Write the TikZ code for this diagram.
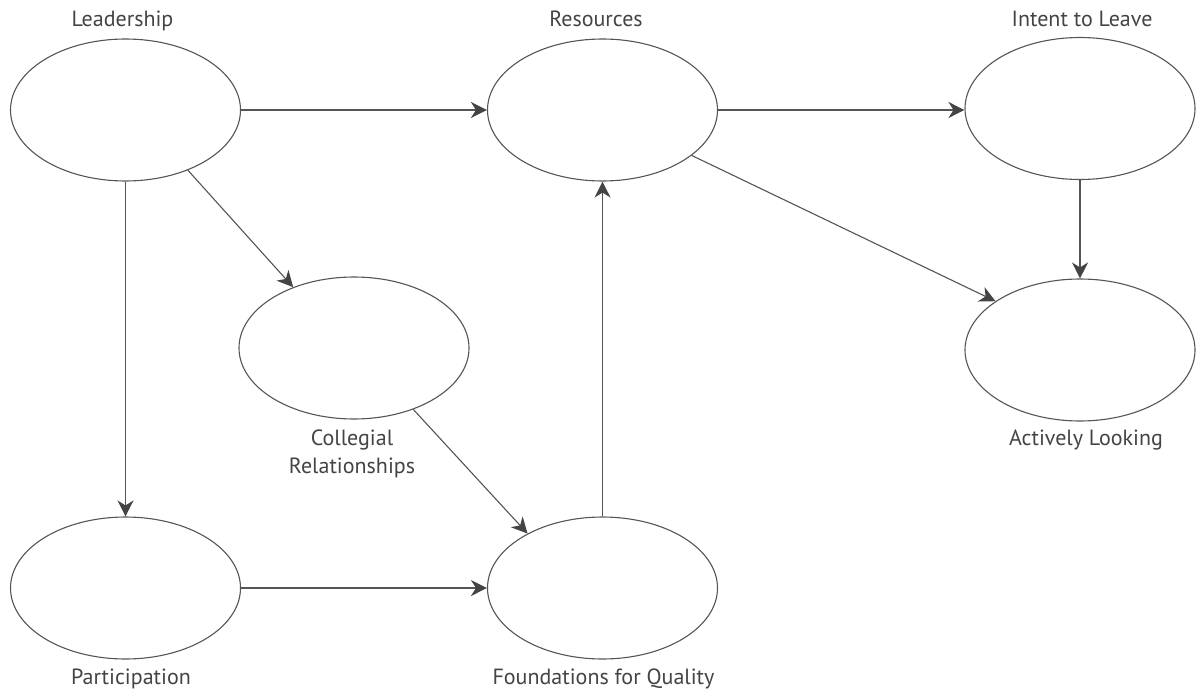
\documentclass[tikz,border=0pt]{standalone}
\usepackage{fontspec}
\setmainfont{PT Sans}
\usetikzlibrary{shapes.geometric,arrows.meta}
\definecolor{linegray}{RGB}{85,85,85}
\definecolor{tipgray}{RGB}{68,68,68}
\definecolor{textgray}{RGB}{68,68,68}
\tikzset{
  oval/.style={ellipse, draw=linegray, line width=1.1pt, minimum width=230pt, minimum height=142pt, inner sep=0pt},
  lbl/.style={anchor=base, text=textgray, font=\fontsize{22}{26}\selectfont, inner sep=0pt, align=center},
  conn/.style={draw=linegray, line width=1.1pt, -{Stealth[length=16pt,width=16pt,inset=5pt,color=tipgray]}}
}
\begin{document}
\begin{tikzpicture}[x=1pt,y=-1pt]
\useasboundingbox[fill=white] (0,0) rectangle (1196,690);
\node[oval] (L) at (125.5,110) {};
\node[oval] (R) at (602.5,110) {};
\node[oval] (I) at (1080,108.5) {};
\node[oval] (C) at (354,348) {};
\node[oval] (A) at (1080,350) {};
\node[oval] (P) at (125.5,588) {};
\node[oval] (F) at (602.5,588) {};
\node[lbl] (Lt) at (122.5,27) {Leadership};
\node[lbl] (Rt) at (596,27) {Resources};
\node[lbl] (It) at (1082,27) {Intent to Leave};
\node[lbl] (Ct1) at (352,445) {Collegial};
\node[lbl] (Ct2) at (352,473) {Relationships};
\node[lbl] (At) at (1086,445) {Actively Looking};
\node[lbl] (Pt) at (131,684) {Participation};
\node[lbl] (Ft) at (603.5,684) {Foundations for Quality};
\draw[conn] (L.east) -- (R.west);
\draw[conn] (R.east) -- (I.west |- R.east);
\draw[conn] (I.south) -- (A.north);
\draw[conn] (L.south) -- (P.north);
\draw[conn] (P.east) -- (F.west);
\draw[conn] (F.north) -- (R.south);
\draw[conn] (L.-44.5) -- (C.135.6);
\draw[conn] (C.-46.2) -- (F.144);
\draw[conn] (R.-27) -- (A.150);
\end{tikzpicture}
\end{document}
